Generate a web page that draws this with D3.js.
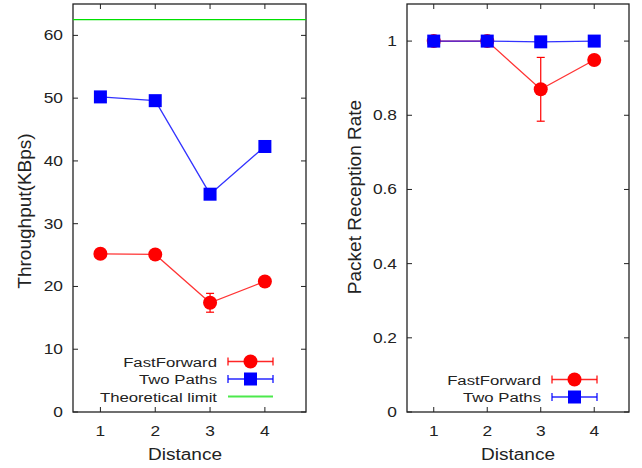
<!DOCTYPE html>
<html>
<head>
<meta charset="utf-8">
<script src="https://cdn.jsdelivr.net/npm/d3@7"></script>
<style>
  body { margin: 0; background: white; }
  text { font-family: "Liberation Sans", Arial, sans-serif; fill: #222; }
</style>
</head>
<body>
<svg id="chart" width="642" height="468"></svg>
<script>
const distances = [1, 2, 3, 4];

// throughput panel (KBps)
const ffThroughput = [25.2, 25.1, 17.4, 20.8];
const ffThroughputErr = [0, 0, 1.5, 0];
const twoThroughput = [50.2, 49.6, 34.7, 42.3];
const twoThroughputErr = [0, 0, 0, 0];
const theoreticalLimit = 62.5;

// packet reception panel
const ffReception = [1, 1, 0.87, 0.949];
const ffReceptionErr = [0, 0, 0.086, 0.01];
const twoReception = [1, 1, 0.998, 1];
const twoReceptionErr = [0, 0, 0, 0];

const throughputTicks = [0, 10, 20, 30, 40, 50, 60];
const receptionTicks = [0, 0.2, 0.4, 0.6, 0.8, 1];

const svg = d3.select("#chart");

// the horizontal text in the original is noticeably wide, so stretch it a bit
function wideText(g, x, y, size, anchor, label, stretch) {
  return g.append("text")
    .attr("transform", "translate(" + x + "," + y + ") scale(" + (stretch || 1.24) + ",1)")
    .attr("text-anchor", anchor)
    .attr("font-size", size)
    .text(label);
}

function drawPanel(opts) {
  const g = svg.append("g");
  const x = d3.scaleLinear().domain(opts.xDomain).range([opts.left, opts.right]);
  const y = d3.scaleLinear().domain(opts.yDomain).range([opts.bottom, opts.top]);
  const tick = 5;

  // frame
  g.append("rect")
    .attr("x", opts.left)
    .attr("y", opts.top)
    .attr("width", opts.right - opts.left)
    .attr("height", opts.bottom - opts.top)
    .attr("fill", "none")
    .attr("stroke", "#222")
    .attr("stroke-width", 1.3);

  // x ticks, bottom and top, pointing inward
  distances.forEach(d => {
    g.append("line")
      .attr("x1", x(d)).attr("x2", x(d))
      .attr("y1", opts.bottom).attr("y2", opts.bottom - tick)
      .attr("stroke", "#222");
    g.append("line")
      .attr("x1", x(d)).attr("x2", x(d))
      .attr("y1", opts.top).attr("y2", opts.top + tick)
      .attr("stroke", "#222");
    wideText(g, x(d), opts.bottom + 24, "14px", "middle", d);
  });

  // y ticks, left and right
  opts.yTicks.forEach(v => {
    g.append("line")
      .attr("x1", opts.left).attr("x2", opts.left + tick)
      .attr("y1", y(v)).attr("y2", y(v))
      .attr("stroke", "#222");
    g.append("line")
      .attr("x1", opts.right).attr("x2", opts.right - tick)
      .attr("y1", y(v)).attr("y2", y(v))
      .attr("stroke", "#222");
    wideText(g, opts.left - 10, y(v) + 5, "14px", "end", v);
  });

  // axis labels
  wideText(g, opts.xLabelX, opts.bottom + 48, "16px", "middle", "Distance", 1.19);

  g.append("text")
    .attr("transform", "translate(" + opts.yLabelX + "," + opts.yLabelY + ") rotate(-90)")
    .attr("text-anchor", "middle")
    .attr("font-size", "19px")
    .text(opts.yLabel);

  if (opts.limit !== undefined) {
    g.append("line")
      .attr("x1", opts.left).attr("x2", opts.right)
      .attr("y1", y(opts.limit)).attr("y2", y(opts.limit))
      .attr("stroke", "#00e000")
      .attr("stroke-width", 1.3);
  }

  const line = d3.line()
    .x(d => x(d.x))
    .y(d => y(d.y));

  opts.series.forEach(s => {
    const pts = distances.map((d, i) => ({ x: d, y: s.values[i], e: s.errors[i] }));

    g.append("path")
      .attr("d", line(pts))
      .attr("fill", "none")
      .attr("stroke", s.color)
      .attr("stroke-opacity", 0.8)
      .attr("stroke-width", 1.3);

    // error bars
    pts.filter(p => p.e > 0).forEach(p => {
      g.append("line")
        .attr("x1", x(p.x)).attr("x2", x(p.x))
        .attr("y1", y(p.y - p.e)).attr("y2", y(p.y + p.e))
        .attr("stroke", s.color).attr("stroke-width", 1.2);
      [p.y - p.e, p.y + p.e].forEach(v => {
        g.append("line")
          .attr("x1", x(p.x) - 4).attr("x2", x(p.x) + 4)
          .attr("y1", y(v)).attr("y2", y(v))
          .attr("stroke", s.color).attr("stroke-width", 1.2);
      });
    });

    drawMarker(g, s, pts.map(p => [x(p.x), y(p.y)]));
  });

  // legend
  opts.legend.forEach((item, i) => {
    const ly = opts.legendY + i * 17.5;
    wideText(g, opts.legendTextX, ly + 5, "13.5px", "end", item.name);

    const x0 = opts.legendTextX + 11;
    const x1 = x0 + 45;
    g.append("line")
      .attr("x1", x0).attr("x2", x1)
      .attr("y1", ly).attr("y2", ly)
      .attr("stroke", item.color)
      .attr("stroke-opacity", item.marker ? 0.85 : 0.7)
      .attr("stroke-width", item.marker ? 1.3 : 2.2);

    if (item.marker) {
      [x0, x1].forEach(cx => {
        g.append("line")
          .attr("x1", cx).attr("x2", cx)
          .attr("y1", ly - 4).attr("y2", ly + 4)
          .attr("stroke", item.color).attr("stroke-width", 1.2);
      });
      drawMarker(g, item, [[(x0 + x1) / 2, ly]]);
    }
  });
}

function drawMarker(g, s, points) {
  if (s.marker === "circle") {
    points.forEach(p => {
      g.append("circle")
        .attr("cx", p[0]).attr("cy", p[1])
        .attr("r", 7)
        .attr("fill", s.color);
    });
  } else {
    points.forEach(p => {
      g.append("rect")
        .attr("x", p[0] - 6.5).attr("y", p[1] - 6.5)
        .attr("width", 13).attr("height", 13)
        .attr("fill", s.color);
    });
  }
}

drawPanel({
  left: 73, right: 306, top: 4, bottom: 412,
  xDomain: [0.5, 4.75],
  yDomain: [0, 65],
  yTicks: throughputTicks,
  xLabelX: 185,
  yLabel: "Throughput(KBps)",
  yLabelX: 30.5, yLabelY: 211,
  limit: theoreticalLimit,
  series: [
    { name: "FastForward", values: ffThroughput, errors: ffThroughputErr, color: "#ff0000", marker: "circle" },
    { name: "Two Paths", values: twoThroughput, errors: twoThroughputErr, color: "#0000ff", marker: "square" }
  ],
  legendTextX: 217,
  legendY: 361.5,
  legend: [
    { name: "FastForward", color: "#ff0000", marker: "circle" },
    { name: "Two Paths", color: "#0000ff", marker: "square" },
    { name: "Theoretical limit", color: "#00e000" }
  ]
});

drawPanel({
  left: 407, right: 629, top: 4, bottom: 412,
  xDomain: [0.5, 4.65],
  yDomain: [0, 1.1],
  yTicks: receptionTicks,
  xLabelX: 518,
  yLabel: "Packet Reception Rate",
  yLabelX: 360.5, yLabelY: 197,
  series: [
    { name: "FastForward", values: ffReception, errors: ffReceptionErr, color: "#ff0000", marker: "circle" },
    { name: "Two Paths", values: twoReception, errors: twoReceptionErr, color: "#0000ff", marker: "square" }
  ],
  legendTextX: 541,
  legendY: 379.5,
  legend: [
    { name: "FastForward", color: "#ff0000", marker: "circle" },
    { name: "Two Paths", color: "#0000ff", marker: "square" }
  ]
});
</script>
</body>
</html>
